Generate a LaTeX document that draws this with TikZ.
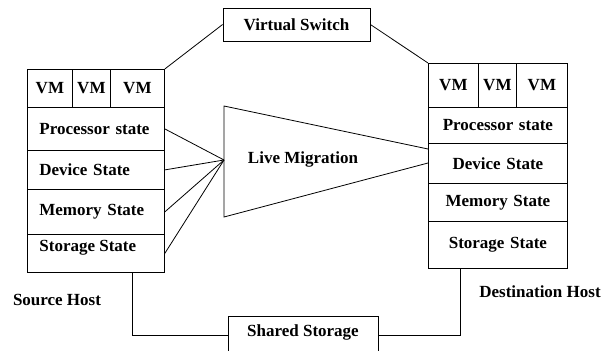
\documentclass[tikz,border=0pt]{standalone}
\usepackage{fontspec}
\setmainfont{Liberation Serif}

\begin{document}
\begin{tikzpicture}[x=1pt,y=-1pt,line width=0.8pt,
    font=\fontsize{17}{19}\selectfont\bfseries,
    cell/.style={draw,anchor=north west,inner sep=0pt},
    srcrow/.style={cell,minimum width=137,text width=113,inner xsep=12pt,align=left},
    dstrow/.style={cell,minimum width=139,text width=139,align=center},
    box/.style={draw,inner sep=0pt,align=center}]
  \clip (0,0) rectangle (603,351);
  % Virtual switch on top.
  \node[box,minimum width=147,minimum height=33] (switch) at (296.5,24.5) {Virtual Switch};
  % Source host.
  \node[cell,minimum width=45,minimum height=38] (src-vm1) at (27,69) {VM};
  \node[cell,minimum width=38,minimum height=38] (src-vm2) at (72,69) {VM};
  \node[cell,minimum width=54,minimum height=38] (src-vm3) at (110,69) {VM};
  \node[srcrow,minimum height=43] (src-proc) at (27,107) {Processor state};
  \node[srcrow,minimum height=39] (src-dev) at (27,150) {Device State};
  \node[srcrow,minimum height=45] (src-mem) at (27,189) {Memory State};
  \node[srcrow,minimum height=38] (src-sto) at (27,234) {};
  \node[right,inner xsep=0pt] (src-sto-text) at (39,248) {Storage State};
  \node (src-name) at (57,300) {Source Host};
  % Destination host.
  \node[cell,minimum width=50,minimum height=44] (dst-vm1) at (428,63) {VM};
  \node[cell,minimum width=38,minimum height=44] (dst-vm2) at (478,63) {VM};
  \node[cell,minimum width=51,minimum height=44] (dst-vm3) at (516,63) {VM};
  \node[dstrow,minimum height=36] (dst-proc) at (428,107) {Processor state};
  \node[dstrow,minimum height=40] (dst-dev) at (428,143) {Device State};
  \node[dstrow,minimum height=38] (dst-mem) at (428,183) {Memory State};
  \node[dstrow,minimum height=47] (dst-sto) at (428,221) {Storage State};
  \node (dst-name) at (540,292) {Destination Host};
  % Shared storage at the bottom.
  \node[box,minimum width=150,minimum height=38] (store) at (303,335) {};
  \node (store-text) at (303,332) {Shared Storage};
  % Live migration wedge.
  \coordinate (mig-in) at (224,160);
  \coordinate (mig-top) at (224,106);
  \coordinate (mig-bot) at (224,217);
  \coordinate (mig-up) at ([yshift=-6pt]dst-dev.north west);
  \coordinate (mig-low) at ([yshift=-20pt]dst-dev.north west);
  \draw (mig-up) -- (mig-top) -- (mig-bot) -- (mig-low);
  \node (mig) at (303,159) {Live Migration};
  \foreach \r in {src-proc,src-dev,src-mem,src-sto}
    \draw (\r.east) -- (mig-in);
  % Links to the switch and the storage.
  \draw (src-vm3.north east) -- (switch.west);
  \draw (switch.east) -- (dst-vm1.north west);
  \draw ([xshift=-32pt]src-sto.south east) |- (store.west);
  \draw ([xshift=32pt]dst-sto.south west) |- (store.east);
\end{tikzpicture}
\end{document}
